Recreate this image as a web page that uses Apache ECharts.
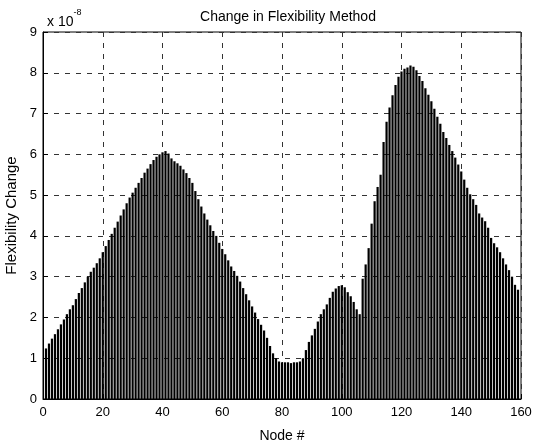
<!DOCTYPE html>
<html>
<head>
<meta charset="utf-8">
<script src="https://cdn.jsdelivr.net/npm/echarts@6/dist/echarts.min.js"></script>
<style>
  html, body { margin: 0; padding: 0; background: #fff; }
  #chart { width: 534px; height: 443px; }
</style>
</head>
<body>
<div id="chart"></div>
<script>
// node numbers 1..159
var nodes = [];
for (var n = 1; n <= 159; n++) nodes.push(n);

// flexibility change per node, in units of 1e-8
var flexChange = [
  1.24, 1.36, 1.48, 1.59, 1.71, 1.83, 1.95, 2.08, 2.20, 2.30,   // 1-10
  2.45, 2.60, 2.72, 2.86, 3.00, 3.12, 3.22, 3.33, 3.45, 3.60,   // 11-20
  3.75, 3.90, 4.05, 4.20, 4.35, 4.50, 4.65, 4.80, 4.94, 5.06,   // 21-30
  5.18, 5.30, 5.42, 5.55, 5.65, 5.76, 5.86, 5.94, 6.00, 6.05,   // 31-40
  6.08, 6.02, 5.90, 5.83, 5.78, 5.72, 5.63, 5.54, 5.42, 5.30,   // 41-50
  5.10, 4.90, 4.72, 4.55, 4.40, 4.26, 4.12, 4.00, 3.83, 3.68,   // 51-60
  3.55, 3.40, 3.25, 3.14, 3.02, 2.88, 2.72, 2.57, 2.42, 2.27,   // 61-70
  2.12, 1.96, 1.82, 1.68, 1.50, 1.30, 1.12, 1.00, 0.92, 0.90,   // 71-80
  0.90, 0.90, 0.88, 0.90, 0.90, 0.92, 1.00, 1.20, 1.40, 1.56,   // 81-90
  1.72, 1.90, 2.08, 2.20, 2.32, 2.48, 2.63, 2.71, 2.77, 2.79,   // 91-100
  2.74, 2.62, 2.52, 2.38, 2.20, 2.08, 2.95, 3.30, 3.70, 4.30,   // 101-110
  4.85, 5.20, 5.50, 6.30, 6.80, 7.15, 7.45, 7.70, 7.90, 8.03,   // 111-120
  8.10, 8.13, 8.18, 8.15, 8.06, 7.92, 7.80, 7.62, 7.46, 7.30,   // 121-130
  7.12, 6.92, 6.75, 6.55, 6.40, 6.23, 6.08, 5.92, 5.75, 5.58,   // 131-140
  5.38, 5.18, 5.02, 4.90, 4.76, 4.55, 4.45, 4.36, 4.20, 3.95,   // 141-150
  3.82, 3.72, 3.60, 3.45, 3.30, 3.16, 3.00, 2.80, 2.68          // 151-159
];

var chart = echarts.init(document.getElementById('chart'), null, { renderer: 'canvas' });

var barData = [];
for (var i = 0; i < nodes.length; i++) {
  barData.push([nodes[i], flexChange[i]]);
}

var font = 'Liberation Sans, Arial, sans-serif';

var option = {
  animation: false,
  backgroundColor: '#fff',
  title: [
    {
      text: 'Change in Flexibility Method',
      left: 283,
      top: 5,
      textAlign: 'center',
      textStyle: { fontFamily: font, fontSize: 14, fontWeight: 'normal', color: '#000' }
    },
    {
      // axis multiplier
      text: '{a|x 10}{b|-8}',
      left: 42,
      top: 3,
      textStyle: {
        fontWeight: 'normal',
        rich: {
          a: { fontFamily: font, fontSize: 14, fontWeight: 'normal', color: '#000', padding: [7, 0, 0, 0] },
          b: { fontFamily: font, fontSize: 9, fontWeight: 'normal', color: '#000', verticalAlign: 'top' }
        }
      }
    }
  ],
  grid: {
    left: 43,
    top: 32,
    width: 478,
    height: 367,
    show: true,
    borderColor: '#000',
    borderWidth: 1,
    containLabel: false,
    outerBoundsMode: 'none'
  },
  xAxis: {
    type: 'value',
    min: 0,
    max: 160,
    interval: 20,
    name: 'Node #',
    nameLocation: 'middle',
    nameGap: 30,
    nameTextStyle: { fontFamily: font, fontSize: 14, color: '#000' },
    axisLine: { show: true, lineStyle: { color: '#000', width: 1 } },
    axisTick: { show: true, inside: true, length: 5, lineStyle: { color: '#000' } },
    axisLabel: { fontFamily: font, fontSize: 13, color: '#000', margin: 7 },
    splitLine: { show: true, lineStyle: { color: '#333', type: [5, 6], width: 1 } }
  },
  yAxis: {
    type: 'value',
    min: 0,
    max: 9,
    interval: 1,
    name: 'Flexibility Change',
    nameLocation: 'middle',
    nameRotate: 90,
    nameGap: 23,
    nameTextStyle: { fontFamily: font, fontSize: 15, color: '#000' },
    axisLine: { show: true, lineStyle: { color: '#000', width: 1 } },
    axisTick: { show: true, inside: true, length: 5, lineStyle: { color: '#000' } },
    axisLabel: { fontFamily: font, fontSize: 13, color: '#000', margin: 6 },
    splitLine: { show: true, lineStyle: { color: '#333', type: [5, 6], width: 1 } }
  },
  series: [
    {
      type: 'bar',
      data: barData,
      barWidth: 2.2,
      itemStyle: { color: '#000' },
      z: 1
    }
  ]
};

chart.setOption(option);
</script>
</body>
</html>
